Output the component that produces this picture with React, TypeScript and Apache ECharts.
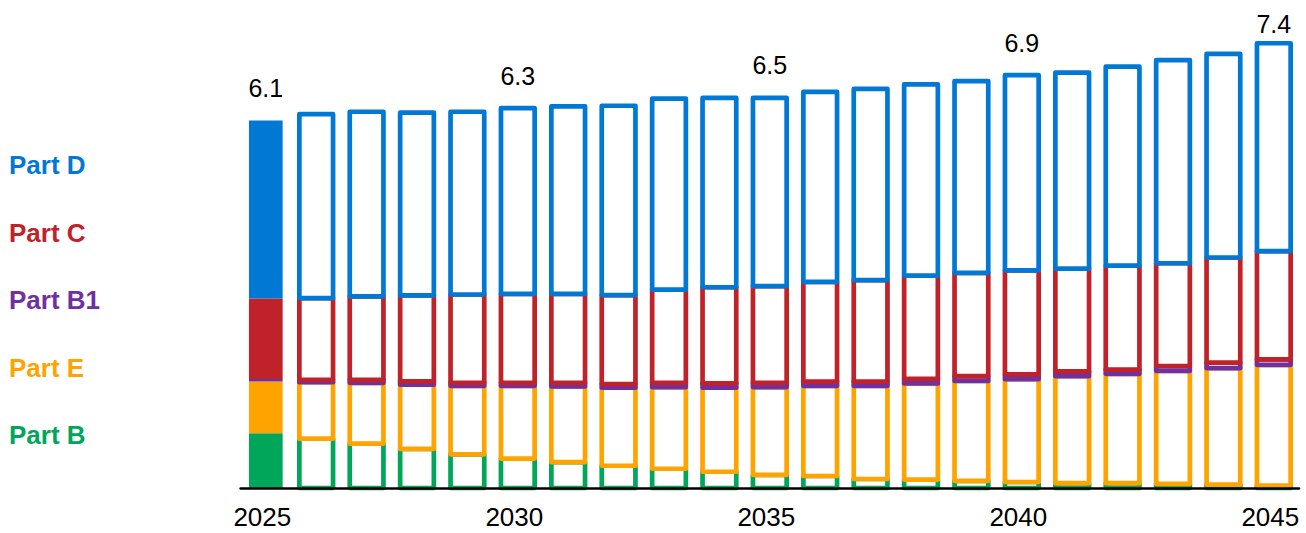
import React, { useEffect, useRef } from "react";
import * as echarts from "echarts";

const years = ["2025","2026","2027","2028","2029","2030","2031","2032","2033","2034","2035","2036","2037","2038","2039","2040","2041","2042","2043","2044","2045"];
const partB = [0.91,0.82,0.74,0.65,0.56,0.49,0.43,0.37,0.32,0.27,0.22,0.20,0.15,0.14,0.12,0.10,0.08,0.08,0.07,0.055,0.04];
const partE = [0.86,0.94,1.01,1.07,1.14,1.21,1.26,1.30,1.36,1.40,1.46,1.50,1.55,1.60,1.66,1.71,1.78,1.82,1.88,1.94,2.01];
const partB1 = [0.045,0.04,0.05,0.055,0.05,0.05,0.06,0.06,0.07,0.07,0.07,0.07,0.07,0.075,0.08,0.08,0.08,0.07,0.08,0.09,0.09];
const partC = [1.34,1.36,1.39,1.43,1.47,1.48,1.48,1.48,1.55,1.60,1.61,1.66,1.69,1.72,1.72,1.73,1.71,1.73,1.71,1.75,1.80];
const partD = [2.96,3.06,3.07,3.04,3.04,3.09,3.12,3.15,3.18,3.15,3.13,3.16,3.18,3.18,3.19,3.25,3.26,3.31,3.38,3.39,3.46];

const seriesNames = ["Part B", "Part E", "Part B1", "Part C", "Part D"];
const seriesColors = ["#00A65A", "#FFA300", "#7030A0", "#C0222A", "#0278D5"];
const labeledYears = ["2025", "2030", "2035", "2040", "2045"];

export default function App() {
  const ref = useRef<HTMLDivElement>(null);
  useEffect(() => {
    const chart = echarts.init(ref.current!, null, { renderer: "svg" });
    const values = [partB, partE, partB1, partC, partD];
    const totals = years.map((_, i) => values.reduce((s, arr) => s + arr[i], 0));
    const font = '"Liberation Sans", Arial, sans-serif';
    const barW = 33.7;
    const lineW = 4.7;

    const bases = years.map(() => 0);
    const series = values.map((arr, k) => {
      const data = arr.map((v, i) => {
        const lo = bases[i];
        const hi = lo + v;
        bases[i] = hi;
        return [i, lo, hi];
      });
      const color = seriesColors[k];
      const isTop = k === values.length - 1;
      return {
        name: seriesNames[k],
        type: "custom",
        data,
        encode: { x: 0, y: [1, 2] },
        renderItem: (params: any, api: any) => {
          const idx = api.value(0);
          const p0 = api.coord([idx, api.value(1)]);
          const p1 = api.coord([idx, api.value(2)]);
          const first = params.dataIndex === 0;
          const children: any[] = [
            {
              type: "rect",
              shape: { x: p0[0] - barW / 2, y: p1[1], width: barW, height: p0[1] - p1[1] },
              style: first
                ? { fill: color }
                : { fill: "#ffffff", stroke: color, lineWidth: lineW, lineJoin: "round" },
            },
          ];
          if (isTop && labeledYears.includes(years[params.dataIndex])) {
            const last = params.dataIndex === years.length - 1;
            children.push({
              type: "text",
              x: p1[0],
              y: p1[1] - (last ? 7 : 20),
              style: {
                text: totals[params.dataIndex].toFixed(1),
                fill: "#000",
                fontSize: 25,
                fontFamily: font,
                align: "center",
                verticalAlign: "bottom",
              },
            });
          }
          return { type: "group", children };
        },
      };
    });

    const legendOrder = [4, 3, 2, 1, 0];
    const graphic = legendOrder.map((k, idx) => ({
      type: "text",
      x: 9,
      y: 165 + idx * 67.5,
      style: {
        text: seriesNames[k],
        fill: seriesColors[k],
        fontSize: 26,
        fontWeight: "bold",
        fontFamily: font,
        verticalAlign: "middle",
        align: "left",
      },
    }));

    chart.setOption({
      animation: false,
      backgroundColor: "#ffffff",
      grid: { left: 240.6, right: 7, top: 7.2, bottom: 45, containLabel: false },
      xAxis: {
        type: "category",
        data: years,
        z: 10,
        axisLine: { show: true, lineStyle: { color: "#000", width: 2.5 } },
        axisTick: { show: false },
        axisLabel: {
          interval: 4,
          color: "#000",
          fontSize: 26,
          fontFamily: font,
          margin: 16,
          padding: [0, 7, 0, 0],
        },
      },
      yAxis: {
        type: "value",
        min: 0,
        max: 8,
        show: false,
        splitLine: { show: false },
      },
      graphic,
      series,
    });
    return () => chart.dispose();
  }, []);
  return (
    <div
      ref={ref}
      style={{ position: "fixed", left: 0, top: 0, width: 1306, height: 533 }}
    />
  );
}
